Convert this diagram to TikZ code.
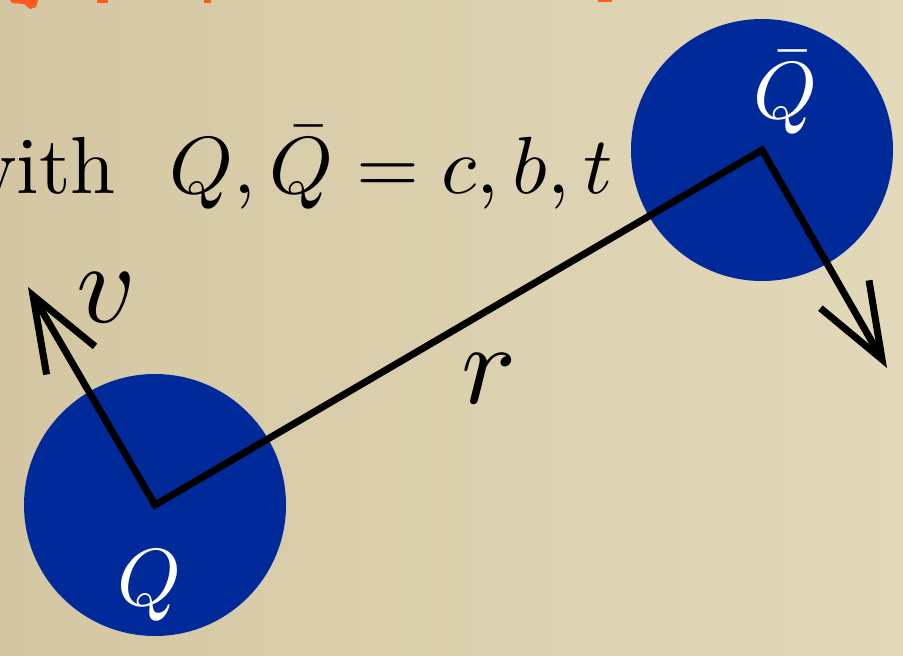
\documentclass[tikz,border=0pt]{standalone}
\usepackage{amsmath}
\usepackage{graphicx}
\usepackage{tikz}
\usetikzlibrary{arrows.meta}
\usetikzlibrary{calc}

\definecolor{quarkblue}{RGB}{0,41,154}
\definecolor{paperdark}{RGB}{212,198,162}
\definecolor{paperlight}{RGB}{226,217,186}
\definecolor{titleorange}{RGB}{255,90,30}

% 10pt text blown up to the slide size
\newcommand{\slidetext}[1]{\scalebox{8.1}{#1}}
\newcommand{\bigtext}[1]{\scalebox{11.5}{#1}}

\tikzset{
  quark/.style={circle, fill=quarkblue, minimum size=262pt, inner sep=0pt},
  quarklabel/.style={text=white, inner sep=0pt},
  biglabel/.style={inner sep=0pt},
  vec/.style={line width=7pt, line join=miter,
    arrows={Straight Barb[length=75pt, width=56pt]-Straight Barb[length=75pt, width=56pt]}}
}

\begin{document}
\begin{tikzpicture}[x=1pt, y=-1pt]
\useasboundingbox (0,0) rectangle (903,656);
\clip (0,0) rectangle (903,656);
\shade[left color=paperdark, right color=paperlight] (0,0) rectangle (903,656);

% cut off title above
\fill[titleorange] (10,0) -- (38,0) -- (36,7) -- (30,9) -- (24,4) -- (12,3) -- cycle;
\fill[titleorange] (97,0) rectangle (108,3);
\fill[titleorange] (204,0) rectangle (211,3);
\fill[titleorange] (598,0) rectangle (612,2);

\node[name=with, anchor=base west, inner sep=0pt]
  at (-42,193) {\slidetext{with\ \ $Q,\bar{Q}=c,b,t$}};

\node[name=Q, quark] at (155,505) {};
\node[name=Qbar, quark] at (762,150) {};
\coordinate (vtip) at (28,287);
\coordinate (wtip) at (887,368);

\draw[vec] (vtip) -- (Q.center) -- (Qbar.center) -- (wtip);

\node[name=Q_label, quarklabel, anchor=base] at (150,605) {\slidetext{$Q$}};
\node[name=Qbar_label, quarklabel, anchor=base] at (786,118) {\slidetext{$\bar{Q}$}};
\node[name=v_label, biglabel, anchor=base] at (106,322) {\bigtext{$v$}};
\node[name=r_label, biglabel, anchor=base] at (489,403) {\bigtext{$r$}};
\end{tikzpicture}
\end{document}
